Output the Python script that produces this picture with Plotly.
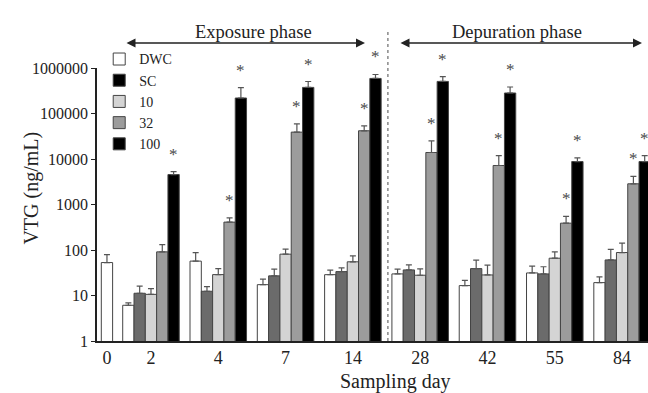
import plotly.graph_objects as go
import math

days = ["0", "2", "4", "7", "14", "28", "42", "55", "84"]
groups = ["DWC", "SC", "10", "32", "100"]

# mean values (ng/mL); None = no bar
dwc = [53, 6.1, 57, 17.3, 28.7, 29.8, 16.5, 31.3, 19.2]
sc = [None, 11.2, 12.4, 27, 33.5, 36.5, 39, 29.8, 60.5]
c10 = [None, 10.6, 28.8, 81, 55, 27.9, 28.3, 66, 88]
c32 = [None, 91, 410, 39000, 41700, 13900, 7200, 389, 2850]
c100 = [None, 4550, 219000, 375000, 590000, 507000, 282000, 8800, 8800]

# upper error (SD)
dwc_err = [26, 0.8, 31, 5.5, 7.5, 8, 5, 12.7, 6.4]
sc_err = [None, 4.8, 3.3, 11, 6.8, 10.5, 21, 13, 43]
c10_err = [None, 3.6, 10, 23, 19, 10.5, 18, 25, 53]
c32_err = [None, 40, 100, 20000, 12000, 11000, 4700, 160, 1300]
c100_err = [None, 750, 150000, 130000, 130000, 140000, 100000, 1800, 3100]

# significance flags
c32_sig = [False, False, True, True, True, True, True, True, True]
c100_sig = [False, True, True, True, True, True, True, True, True]

values = [dwc, sc, c10, c32, c100]
errors = [dwc_err, sc_err, c10_err, c32_err, c100_err]
sigs = [None, None, None, c32_sig, c100_sig]

bar_colors = ["#ffffff", "#6b6b6b", "#d4d4d4", "#9c9c9c", "#000000"]
legend_colors = ["#ffffff", "#000000", "#d4d4d4", "#9c9c9c", "#000000"]

FONT = "Liberation Serif"
TXT = "#222222"

# layout positions (x units): day 0 sits alone to the left
pos = [-0.654] + [i for i in range(len(days) - 1)]
w = 0.168

fig = go.Figure()
for k, (name, vals, errs) in enumerate(zip(groups, values, errors)):
    xs, ys, es, offs = [], [], [], []
    for i, v in enumerate(vals):
        if v is None:
            continue
        xs.append(pos[i])
        ys.append(v)
        es.append(errs[i])
        offs.append(-w / 2 if i == 0 else (-2.5 + k) * w)
    fig.add_trace(go.Bar(
        x=xs, y=ys, width=w, offset=offs, name=name, showlegend=False,
        marker=dict(color=bar_colors[k], line=dict(color="#444444", width=1)),
        error_y=dict(type="data", array=es, symmetric=False,
                     arrayminus=[0] * len(es), color="#555555",
                     thickness=1.2, width=3),
    ))
    sig = sigs[k]
    if sig:
        for i, s in enumerate(sig):
            if s and vals[i] is not None:
                fig.add_annotation(
                    x=pos[i] + (-2.5 + k + 0.5) * w,
                    y=math.log10(vals[i] + errs[i]),
                    text="*", showarrow=False, yanchor="bottom", yshift=6,
                    font=dict(family=FONT, size=17, color="#4a4a4a"))

# legend entries (dummy traces)
for k, name in enumerate(groups):
    fig.add_trace(go.Bar(
        x=[None], y=[None], name=name, showlegend=True,
        marker=dict(color=legend_colors[k], line=dict(color="#444444", width=1)),
    ))

fig.update_layout(
    width=648, height=393,
    margin=dict(l=97, r=0, t=68, b=52),
    barmode="overlay",
    plot_bgcolor="white", paper_bgcolor="white",
    font=dict(family=FONT, size=16, color=TXT),
    showlegend=True,
    legend=dict(x=0.004, y=1.09, xanchor="left", yanchor="top",
                bgcolor="rgba(0,0,0,0)", font=dict(size=14, family=FONT, color=TXT),
                tracegroupgap=0, itemwidth=30),
    xaxis=dict(range=[-0.802, 7.385], tickvals=pos, ticktext=days,
               showline=True, linecolor=TXT, linewidth=1.5,
               ticks="", showgrid=False, zeroline=False,
               tickfont=dict(size=18, family=FONT, color=TXT)),
    yaxis=dict(type="log", range=[0, 6],
               tickvals=[1, 10, 100, 1000, 10000, 100000, 1000000],
               ticktext=["1", "10", "100", "1000", "10000", "100000", "1000000"],
               showline=True, linecolor=TXT, linewidth=1.5,
               ticks="outside", ticklen=4, tickcolor=TXT,
               showgrid=False, zeroline=False,
               tickfont=dict(size=16, family=FONT, color=TXT)),
)

# axis titles
fig.add_annotation(text="VTG (ng/mL)", xref="paper", yref="paper",
                   x=-0.1434, y=0.56, textangle=-90, showarrow=False,
                   font=dict(family=FONT, size=20, color=TXT))
fig.add_annotation(text="Sampling day", xref="x", yref="paper",
                   x=3.64, y=-0.15, showarrow=False, yanchor="middle",
                   font=dict(family=FONT, size=20, color=TXT))

# phase labels and arrows
fig.add_annotation(text="Exposure phase", xref="x", yref="paper",
                   x=1.516, y=1.176, showarrow=False,
                   font=dict(family=FONT, size=18.5, color=TXT))
fig.add_annotation(text="Depuration phase", xref="x", yref="paper",
                   x=5.44, y=1.176, showarrow=False,
                   font=dict(family=FONT, size=18.5, color=TXT))
for x0, x1 in [(-0.386, 3.18), (3.685, 7.296)]:
    fig.add_annotation(x=x1, y=1.0916, xref="x", yref="paper",
                       ax=x0, ay=0, axref="x", ayref="pixel",
                       text="", showarrow=True, arrowhead=2, arrowside="end+start",
                       arrowsize=1.2, arrowwidth=1.5, arrowcolor=TXT)

# dotted phase separator
fig.add_shape(type="line", xref="x", yref="paper", x0=3.52, x1=3.52,
              y0=0, y1=1.139, line=dict(color="#888888", width=1.5, dash="dot"))

fig.write_html("out.html", config={"displayModeBar": False},
               post_script="document.body.style.margin='0';document.body.style.overflow='hidden';")
